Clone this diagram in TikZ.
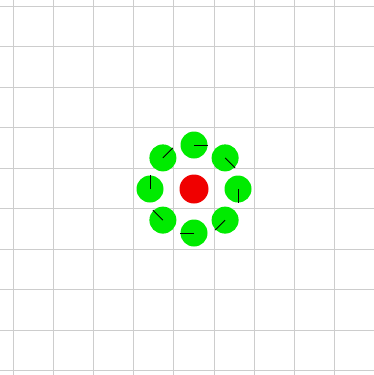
\documentclass[tikz,border=0pt]{standalone}
\usetikzlibrary{calc}
\begin{document}
\begin{tikzpicture}[x=1pt,y=-1pt,
  gridline/.style={draw={rgb,255:red,205;green,205;blue,205},line width=0.8pt},
  agent/.style={circle,fill={rgb,255:red,0;green,235;blue,0},inner sep=0pt,minimum size=27pt},
  leader/.style={circle,fill={rgb,255:red,240;green,0;blue,0},inner sep=0pt,minimum size=29pt},
  heading/.style={draw=black,line width=0.8pt}]
\useasboundingbox (0,0) rectangle (374,375);
\fill[white] (0,0) rectangle (374,375);
\foreach \k in {0,...,8} {
  \draw[gridline] ({13+40.2*\k},0) -- ({13+40.2*\k},375);
}
\foreach \k in {0,...,9} {
  \draw[gridline] (0,{6+40.5*\k}) -- (374,{6+40.5*\k});
}
\coordinate (c) at (194,189);
\node[leader] (r) at (c) {};
\foreach \i in {0,...,7} {
  \pgfmathsetmacro{\ang}{90-45*\i}
  \node[agent] (g\i) at ($(c)+({44*cos(\ang)},{-44*sin(\ang)})$) {};
  \coordinate (h\i) at ($(g\i)+({14*cos(\ang-90)},{-14*sin(\ang-90)})$);
  \draw[heading] (g\i.center) -- (h\i);
}
\end{tikzpicture}
\end{document}
